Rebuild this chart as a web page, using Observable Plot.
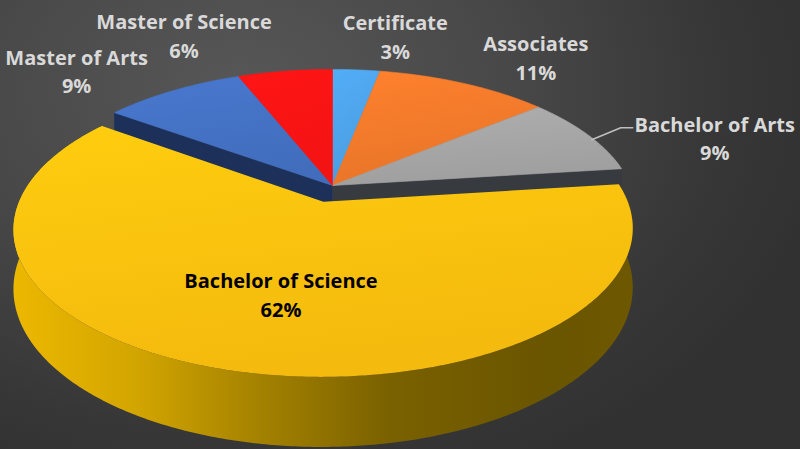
<!DOCTYPE html>
<html><head><meta charset="utf-8">
<script src="https://cdn.jsdelivr.net/npm/d3@7"></script>
<script src="https://cdn.jsdelivr.net/npm/@observablehq/plot@0.6"></script>
<style>
html,body{margin:0;padding:0;background:#3a3a3a;}
#chart{width:800px;height:449px;overflow:hidden;
  background:radial-gradient(ellipse 75% 95% at 30% 20%, #575757 0%, #484848 45%, #373737 80%, #313131 100%);}
#chart svg{display:block;background:transparent;}
</style></head><body><div id="chart"></div>
<script>
// ---- data ----
const categories = ["Certificate", "Associates", "Bachelor of Arts", "Bachelor of Science", "Master of Arts", "Master of Science"];
const percents = [3, 11, 9, 62, 9, 6];
const explodedCategories = ["Bachelor of Science"];

// ---- styles ----
const topColors = ["#4EA4EA", "#F27A2B", "#A6A6A6", "#FFC20E", "#4472C4", "#FF1414"];
const cutFaceColors = ["#203a5e", "#7a3a12", "#373b40", "#7a6000", "#1c305a", "#7a0a0a"];
const labelColors = ["#D9D9D9", "#D9D9D9", "#D9D9D9", "#000000", "#D9D9D9", "#D9D9D9"];
const labelOffsets = [[39, -35], [72, -27], [127, 2], [0, 15], [-96, -21], [-101, -37]];
const leaderFor = ["Bachelor of Arts"];

// ---- 3D pie camera (layout) ----
const cam = {vx: 332, vy: 185, a: 298, b: 137, p: 0.18, depth: 56, explode: 0.12};
function proj(u, w, h) {
  const d = 1 + cam.p * w;
  return [cam.vx + cam.a * u / d, cam.vy - cam.b * w / d + cam.depth * h / d];
}
const arcs = d3.pie().sort(null).value(d => d)(percents);
const slices = arcs.map((a, i) => {
  const mid = (a.startAngle + a.endAngle) / 2;
  const ex = explodedCategories.includes(categories[i]) ? cam.explode : 0;
  return {i, name: categories[i], pct: percents[i], a0: a.startAngle, a1: a.endAngle, mid,
          ou: ex * Math.sin(mid), ow: ex * Math.cos(mid), ex: ex > 0};
});
function rim(s, h, from, to) {
  const n = Math.max(2, Math.ceil(Math.abs(to - from) / 0.01));
  const pts = [];
  for (let k = 0; k <= n; k++) {
    const t = from + (to - from) * k / n;
    pts.push(proj(s.ou + Math.sin(t), s.ow + Math.cos(t), h));
  }
  return pts;
}
const topPoly = s => [proj(s.ou, s.ow, 0), ...rim(s, 0, s.a0, s.a1), proj(s.ou, s.ow, 0)];
const wallPoly = s => [...rim(s, 0, s.a0, s.a1), ...rim(s, 1, s.a1, s.a0)];
function cutFace(s, t) {
  return [proj(s.ou, s.ow, 0), proj(s.ou + Math.sin(t), s.ow + Math.cos(t), 0),
          proj(s.ou + Math.sin(t), s.ow + Math.cos(t), 1), proj(s.ou, s.ow, 1)];
}
const toRows = pts => pts.map(([x, y]) => ({x, y}));
const poly = (pts, o) => Plot.line(toRows(pts), {x: "x", y: "y", curve: "linear", ...o});

const marks = [];
const exSlices = slices.filter(s => s.ex);
const rest = slices.filter(s => !s.ex);

// shadow under exploded slices
exSlices.forEach(s => marks.push(poly(wallPoly(s), {fill: "#000", fillOpacity: 0.7, stroke: "none", dx: 3, dy: 4, ariaLabel: "shadow"})));
// cut faces of the remaining pie exposed by the explosion
exSlices.forEach(s => {
  const n = slices.length;
  const prev = slices[(s.i - 1 + n) % n], next = slices[(s.i + 1) % n];
  if (!prev.ex) marks.push(poly(cutFace(prev, prev.a1), {fill: cutFaceColors[prev.i], stroke: cutFaceColors[prev.i], strokeWidth: 0.6}));
  if (!next.ex) marks.push(poly(cutFace(next, next.a0), {fill: cutFaceColors[next.i], stroke: cutFaceColors[next.i], strokeWidth: 0.6}));
});
// top surfaces of remaining pie
rest.forEach(s => marks.push(poly(topPoly(s), {fill: `url(#top${s.i})`, stroke: topColors[s.i], strokeWidth: 0.6})));
// exploded slice: wall then top
exSlices.forEach(s => {
  marks.push(poly(wallPoly(s), {fill: "url(#wallGrad)", stroke: "none"}));
  marks.push(poly(topPoly(s), {fill: `url(#top${s.i})`, stroke: "none"}));
});

// labels
const labelRows = slices.map(s => {
  const k = s.ex ? 0.5 : 1;
  const [ax, ay] = proj(s.ou + k * Math.sin(s.mid), s.ow + k * Math.cos(s.mid), 0);
  const [ox, oy] = labelOffsets[s.i];
  return {name: s.name, text: `${s.name}\n${s.pct}%`, ax, ay, x: ax + ox, y: ay + oy, color: labelColors[s.i]};
});
labelRows.filter(r => leaderFor.includes(r.name)).forEach(r => {
  marks.push(Plot.line([{x: r.ax + 4, y: r.ay + 5}, {x: r.x - 94, y: r.y - 9}, {x: r.x - 82, y: r.y - 9}],
    {x: "x", y: "y", stroke: "#BFBFBF", strokeWidth: 1.5}));
});
marks.push(Plot.text(labelRows, {x: "x", y: "y", text: "text", fill: "color", fontSize: 20, fontWeight: "bold",
  fontFamily: "Open Sans", lineHeight: 1.45, textAnchor: "middle"}));

const svg = Plot.plot({
  width: 800, height: 449, margin: 0,
  x: {domain: [0, 800], range: [0, 800], axis: null},
  y: {domain: [0, 449], range: [0, 449], axis: null},
  color: {type: "identity"},
  style: {background: "transparent", overflow: "visible"},
  marks
});

// gradient definitions
const ns = "http://www.w3.org/2000/svg";
const defs = document.createElementNS(ns, "defs");
let g = "";
topColors.forEach((c, i) => {
  const c1 = d3.color(c).brighter(0.15).formatHex(), c2 = d3.color(c).darker(0.12).formatHex();
  g += `<linearGradient id="top${i}" x1="0" y1="0" x2="0.3" y2="1"><stop offset="0" stop-color="${c1}"/><stop offset="1" stop-color="${c2}"/></linearGradient>`;
});
g += `<linearGradient id="wallGrad" gradientUnits="userSpaceOnUse" x1="10" y1="0" x2="640" y2="0">
  <stop offset="0" stop-color="#EDB800"/><stop offset="0.2" stop-color="#D2A500"/>
  <stop offset="0.4" stop-color="#A38100"/><stop offset="0.6" stop-color="#7A6100"/>
  <stop offset="0.85" stop-color="#6A5500"/><stop offset="1" stop-color="#6E5800"/></linearGradient>
  <filter id="blur" x="-10%" y="-10%" width="120%" height="130%"><feGaussianBlur stdDeviation="3"/></filter>`;
defs.innerHTML = g;
svg.insertBefore(defs, svg.firstChild);
svg.querySelectorAll('g[aria-label="shadow"]').forEach(el => el.setAttribute("filter", "url(#blur)"));
document.getElementById("chart").appendChild(svg);
</script>
</body></html>
